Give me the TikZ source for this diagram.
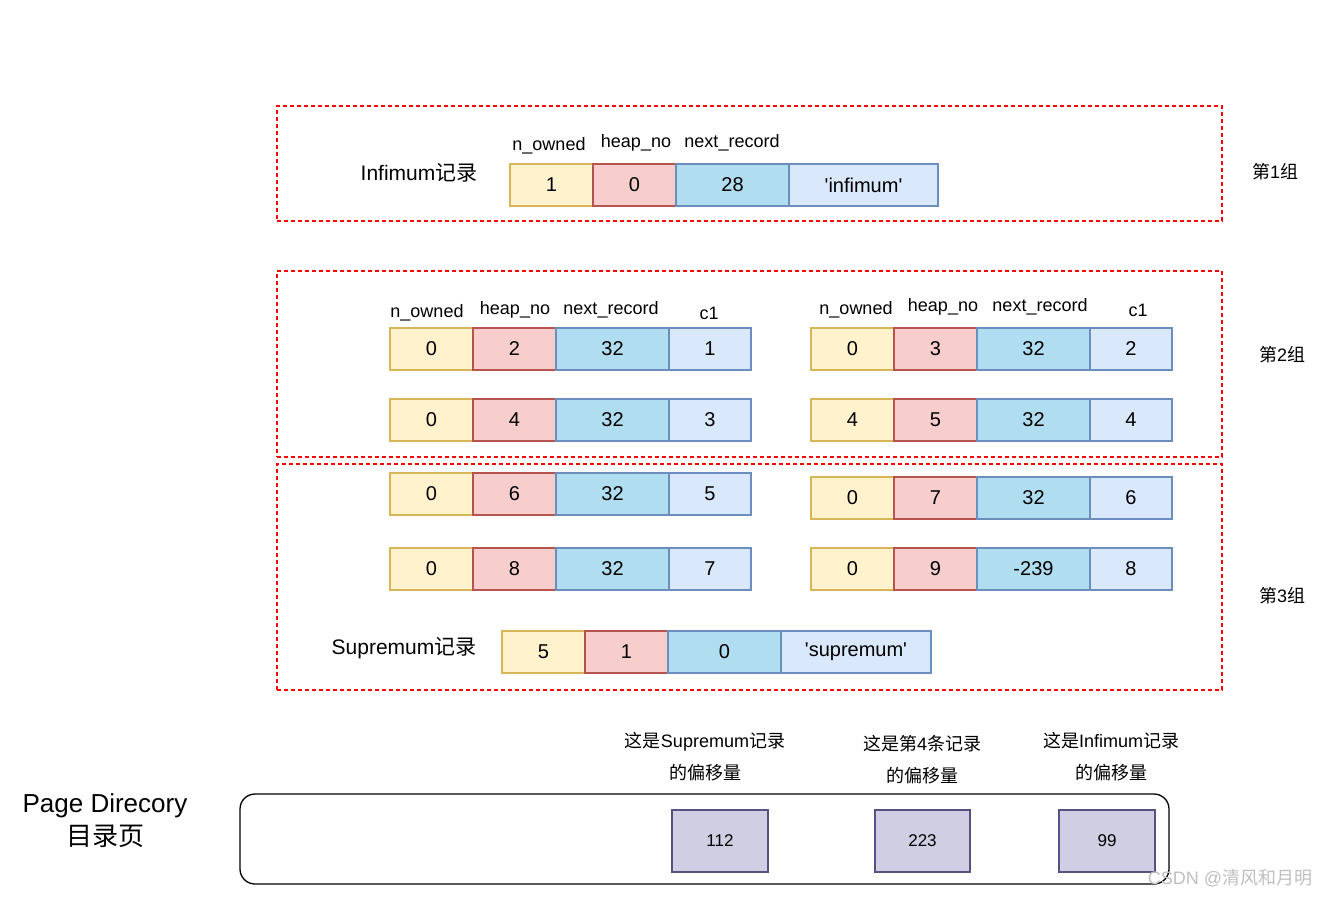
\documentclass[tikz,border=0pt]{standalone}
\usepackage{fontspec}
\setmainfont{Liberation Sans}
\newfontfamily\cjk{Noto Sans CJK SC}
\definecolor{yfill}{HTML}{FFF2CC}\definecolor{ydraw}{HTML}{D6B656}
\definecolor{rfill}{HTML}{F8CECC}\definecolor{rdraw}{HTML}{B85450}
\definecolor{bfill}{HTML}{B1DDF0}\definecolor{bdraw}{HTML}{6C8EBF}
\definecolor{lfill}{HTML}{DAE8FC}\definecolor{ldraw}{HTML}{6C8EBF}
\definecolor{pfill}{HTML}{D0CEE2}\definecolor{pdraw}{HTML}{56517E}
\definecolor{grpred}{HTML}{FF0000}
\tikzset{
  cellbase/.style={inner sep=0pt, outer sep=0pt, minimum height=42pt, line width=1.3pt, font=\fontsize{20}{24}\selectfont, anchor=west},
  cy/.style={cellbase, fill=yfill, draw=ydraw},
  cr/.style={cellbase, fill=rfill, draw=rdraw},
  cb/.style={cellbase, fill=bfill, draw=bdraw},
  cl/.style={cellbase, fill=lfill, draw=ldraw},
  gbox/.style={draw=grpred, line width=1.3pt, dash pattern=on 4pt off 3pt, inner sep=0pt, minimum width=945pt},
  lab/.style={inner sep=0pt, font=\fontsize{18}{21}\selectfont},
  biglab/.style={inner sep=0pt, font=\fontsize{21}{25}\selectfont},
  pbox/.style={draw=pdraw, fill=pfill, line width=1.3pt, minimum width=96pt, minimum height=62pt, inner sep=0pt, font=\fontsize{17}{20}\selectfont},
}
\newcommand\recrow[8]{%
  \node[cy, minimum width=83pt] (#1a) at (#2,#3) {#5};
  \node[cr, minimum width=83pt] (#1b) at (#1a.east) {#6};
  \node[cb, minimum width=113pt] (#1c) at (#1b.east) {#7};
  \node[cl, minimum width=#4pt] (#1d) at (#1c.east) {#8};
}
\begin{document}
\begin{tikzpicture}[x=1pt,y=-1pt]
\useasboundingbox (0,0) rectangle (1330,897);
% group boxes
\node[gbox, minimum height=115pt] (g1) at (749.5,163.5) {};
\node[gbox, minimum height=186pt] (g2) at (749.5,364) {};
\node[gbox, minimum height=226pt] (g3) at (749.5,577) {};
\node[lab] (t1) at (1275,172) {{\cjk 第}1{\cjk 组}};
\node[lab] (t2) at (1282,355) {{\cjk 第}2{\cjk 组}};
\node[lab] (t3) at (1282,596) {{\cjk 第}3{\cjk 组}};
% infimum
\node[biglab] (inflab) at (419,173) {Infimum{\cjk 记录}};
\recrow{inf}{510}{185}{149}{1}{0}{28}{\textquotesingle infimum\textquotesingle}
\node[lab] (h1) at (549,146) {n\_owned};
\node[lab] (h2) at (636,143) {heap\_no};
\node[lab] (h3) at (732,143) {next\_record};
% group 2 headers
\node[lab] (la) at (427,313) {n\_owned};
\node[lab] (lb) at (515,310) {heap\_no};
\node[lab] (lc) at (611,310) {next\_record};
\node[lab] (ld) at (709,313) {c1};
\node[lab] (ra) at (856,310) {n\_owned};
\node[lab] (rb) at (943,307) {heap\_no};
\node[lab] (rc) at (1040,307) {next\_record};
\node[lab] (rd) at (1138,310) {c1};
% records
\recrow{ra}{390}{349}{82}{0}{2}{32}{1}
\recrow{rb}{811}{349}{82}{0}{3}{32}{2}
\recrow{rc}{390}{420}{82}{0}{4}{32}{3}
\recrow{rd}{811}{420}{82}{4}{5}{32}{4}
\recrow{re}{390}{494}{82}{0}{6}{32}{5}
\recrow{rf}{811}{498}{82}{0}{7}{32}{6}
\recrow{rg}{390}{569}{82}{0}{8}{32}{7}
\recrow{rh}{811}{569}{82}{0}{9}{-239}{8}
% supremum
\node[biglab] (suplab) at (404,648) {Supremum{\cjk 记录}};
\recrow{sup}{502}{652}{150}{5}{1}{0}{\textquotesingle supremum\textquotesingle}
% page directory
\node[draw=black, line width=1.3pt, rounded corners=15pt, minimum width=929pt, minimum height=90pt, inner sep=0pt] (pd) at (704.5,839) {};
\node[inner sep=0pt, align=center, font=\fontsize{26}{33}\selectfont] (pdlab) at (105,821) {Page Direcory\\{\cjk 目录页}};
\node[pbox] (p1) at (720,841) {112};
\node[pbox, minimum width=95pt] (p2) at (922.5,841) {223};
\node[pbox] (p3) at (1107,841) {99};
\node[lab, align=center, font=\fontsize{18}{32}\selectfont] (d1) at (705,757) {{\cjk 这是}Supremum{\cjk 记录}\\{\cjk 的偏移量}};
\node[lab, align=center, font=\fontsize{18}{32}\selectfont] (d2) at (922,760) {{\cjk 这是第}4{\cjk 条记录}\\{\cjk 的偏移量}};
\node[lab, align=center, font=\fontsize{18}{32}\selectfont] (d3) at (1111,757) {{\cjk 这是}Infimum{\cjk 记录}\\{\cjk 的偏移量}};
\node[inner sep=0pt, text=black!25, font=\fontsize{18}{20}\selectfont] (wm) at (1230,878) {CSDN @{\cjk 清风和月明}};
\end{tikzpicture}
\end{document}
